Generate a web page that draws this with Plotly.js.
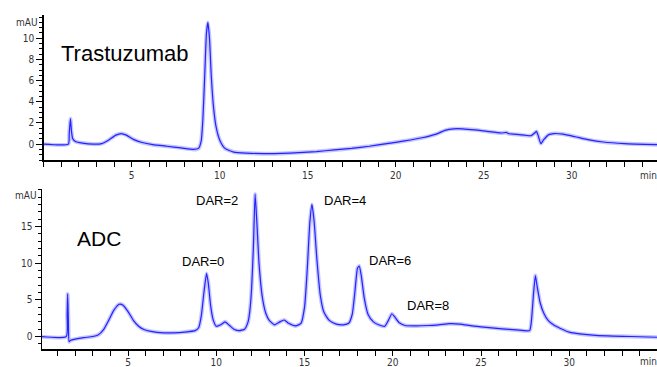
<!DOCTYPE html>
<html><head><meta charset="utf-8">
<script src="https://cdn.plot.ly/plotly-3.0.1.min.js"></script>
<style>html,body{margin:0;padding:0;background:#fff}#c{width:657px;height:367px}</style>
</head><body><div id="c"></div>
<script>
// Trastuzumab chromatogram (time in min, absorbance in mAU)
const trastTime = [0,1.40,1.45,1.52,1.58,1.65,1.8,2.2,2.8,3.3,3.7,4.1,4.4,4.7,5.1,5.6,6.2,7.0,7.8,8.5,8.8,8.95,9.05,9.15,9.25,9.33,9.42,9.52,9.65,9.8,10.0,10.3,10.8,11.5,12.5,13.5,14.5,15.5,16.5,17.5,18.5,19.5,20.5,21.5,22.3,22.8,23.3,23.8,24.5,25.2,26.0,26.3,26.4,27.0,27.7,27.9,28.0,28.1,28.25,28.4,28.7,29.0,29.5,30.2,31.0,31.8,33.0,34.9];
const trastAbs  = [0,0,1.0,2.4,1.2,0.5,0.25,0.1,0.0,0.05,0.4,0.85,1.0,0.85,0.45,0.15,-0.05,-0.2,-0.35,-0.5,-0.4,0.3,2.5,6.5,10.5,11.5,10.0,6.5,3.5,1.6,0.4,-0.4,-0.75,-0.85,-0.9,-0.88,-0.8,-0.7,-0.55,-0.4,-0.2,0.05,0.3,0.6,0.95,1.3,1.45,1.45,1.35,1.2,1.05,1.1,1.0,0.9,0.8,1.05,1.2,0.8,0.05,0.4,0.9,1.0,0.95,0.7,0.4,0.2,0.05,-0.05];

// ADC chromatogram
const adcTime = [0,1.50,1.55,1.58,1.62,1.66,1.75,2.0,2.5,3.0,3.3,3.6,3.9,4.2,4.5,4.7,5.0,5.3,5.6,5.9,6.3,7.0,7.6,8.2,8.8,9.0,9.15,9.3,9.45,9.55,9.68,9.82,10.0,10.25,10.5,10.75,11.0,11.3,11.6,11.8,11.9,12.0,12.1,12.2,12.3,12.42,12.6,12.8,13.0,13.3,13.6,13.85,14.1,14.5,14.8,15.0,15.15,15.3,15.42,15.55,15.7,15.9,16.1,16.4,16.8,17.2,17.5,17.7,17.85,18.0,18.1,18.22,18.38,18.6,18.9,19.2,19.55,19.75,19.95,20.1,20.35,20.7,21.3,22.0,22.6,23.2,23.8,24.5,25.3,26.2,27.0,27.75,27.85,27.98,28.08,28.18,28.35,28.55,28.8,29.1,29.5,30.0,30.6,31.5,32.5,33.5,35.0];
const adcAbs  = [0,0,3.0,5.8,2.0,-0.7,-0.5,-0.35,-0.15,0.0,0.2,0.9,2.2,3.6,4.4,4.3,3.4,2.2,1.4,0.95,0.7,0.5,0.5,0.6,0.8,1.2,2.8,6.0,8.6,7.2,4.2,2.3,1.4,1.6,2.0,1.5,1.0,0.8,1.0,2.0,3.5,6.5,12.0,19.4,15.5,10.0,5.5,3.2,2.2,1.6,2.0,2.25,1.8,1.45,1.8,4.0,9.0,15.5,18.0,15.5,10.5,5.5,3.3,2.2,1.7,1.6,1.8,3.0,6.0,9.3,9.6,8.2,5.3,3.0,2.0,1.6,1.4,2.2,3.1,2.7,1.9,1.5,1.45,1.5,1.6,1.75,1.7,1.45,1.25,1.05,0.9,0.8,2.0,6.0,8.3,6.8,4.6,3.2,2.2,1.6,1.1,0.6,0.35,0.15,0.05,0.0,-0.1];

const xTickVals = [5,10,15,20,25,30];
const topYTicks = [0,2,4,6,8,10];
const botYTicks = [0,5,10,15];
const peakLabels = ['DAR=0','DAR=2','DAR=4','DAR=6','DAR=8'];

const W = 657, H = 367;
const px = v => v / W, py = v => 1 - v / H;

const halo = 'rgba(110,110,255,0.4)', core = 'rgb(35,35,255)';
const ln = (c,w) => ({color:c, width:w, shape:'spline', smoothing:0.5});
const traces = [
  {x: trastTime, y: trastAbs, xaxis:'x', yaxis:'y', mode:'lines', line:ln(halo,4), hoverinfo:'skip'},
  {x: trastTime, y: trastAbs, xaxis:'x', yaxis:'y', mode:'lines', line:ln(core,1.2)},
  {x: adcTime, y: adcAbs, xaxis:'x2', yaxis:'y2', mode:'lines', line:ln(halo,4), hoverinfo:'skip'},
  {x: adcTime, y: adcAbs, xaxis:'x2', yaxis:'y2', mode:'lines', line:ln(core,1.2)}
];

const tickFont = {family:'"Liberation Sans Narrow", "DejaVu Sans Condensed", sans-serif', size:10, color:'#333'};
function xAxis(range, dom, anchor, standoff) {
  return {range: range, domain: dom, anchor: anchor, showgrid:false, zeroline:false,
    showline:true, linecolor:'#000', linewidth:2,
    tickmode:'array', tickvals: xTickVals, ticktext: xTickVals.map(String),
    ticks:'outside', ticklen:5, tickcolor:'#000', tickwidth:1, tickfont: tickFont,
    ticklabelstandoff: standoff,
    minor:{tickmode:'linear', tick0:0, dtick:1, ticks:'outside', ticklen:5, tickcolor:'#000', tickwidth:1}};
}
function yAxis(range, dom, anchor, vals, minorD) {
  return {range: range, domain: dom, anchor: anchor, showgrid:false, zeroline:false,
    showline:true, linecolor:'#000', linewidth:1.5,
    tickmode:'array', tickvals: vals, ticktext: vals.map(String),
    ticks:'outside', ticklen:6, tickcolor:'#000', tickwidth:1, tickfont: tickFont,
    minor:{tickmode:'linear', tick0:0, dtick:minorD, ticks:'outside', ticklen:3, tickcolor:'#000', tickwidth:1}};
}

const labelFont = {family:'"Liberation Sans", Arial, sans-serif', size:13, color:'#000'};
const darPos = [[203,261],[217,200],[345,200],[390,260],[428,305]];
const ann = (text, x, y, font) => ({text, x:px(x), y:py(y), xref:'paper', yref:'paper',
  xanchor:'center', yanchor:'middle', showarrow:false, font});
const annotations = [
  ann('Trastuzumab', 125, 53, {family:'"Liberation Sans", Arial, sans-serif', size:22, color:'#000'}),
  ann('ADC', 99, 238, {family:'"Liberation Sans", Arial, sans-serif', size:21, color:'#000'}),
  ann('mAU', 27, 22, tickFont),
  ann('mAU', 26, 195, tickFont),
  ann('min', 648, 175, tickFont),
  ann('min', 648, 361, tickFont)
];
peakLabels.forEach((t,i) => annotations.push(ann(t, darPos[i][0], darPos[i][1], labelFont)));

const layout = {
  width: W, height: H, margin:{l:0,r:0,t:0,b:0}, showlegend:false,
  paper_bgcolor:'#fff', plot_bgcolor:'#fff',
  xaxis: xAxis([0, 34.85], [px(43.7), 1], 'y', 0),
  yaxis: yAxis([-1.5, 12.2], [py(160), py(15)], 'x', topYTicks, 0.5),
  xaxis2: xAxis([0.125, 34.97], [px(42), 1], 'y2', -2),
  yaxis2: yAxis([-1.7, 20.1], [py(349), py(189)], 'x2', botYTicks, 1),
  annotations: annotations
};
Plotly.newPlot('c', traces, layout, {staticPlot:true});
</script></body></html>
